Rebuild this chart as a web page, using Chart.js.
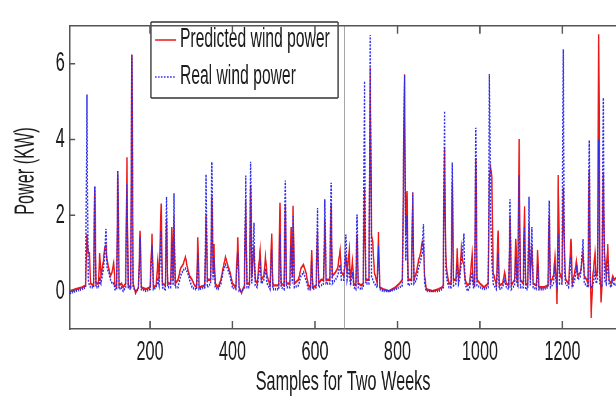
<!DOCTYPE html>
<html>
<head>
<meta charset="utf-8">
<script src="https://cdn.jsdelivr.net/npm/chart.js@4.4.0/dist/chart.umd.min.js"></script>
<style>
  html, body { margin: 0; padding: 0; background: #fff; overflow: hidden; }
  #myChart { display: block; }
</style>
</head>
<body>
<canvas id="myChart" width="1062" height="403" style="width: 616px; height: 403px;"></canvas>
<script>
'use strict';

// sample index (15 min steps) and power in KW
let samples = [
  6, 20, 35, 44, 47, 50, 53, 56, 63, 66,
  69, 75, 78, 81, 87, 90, 93, 96, 100, 104,
  108, 112, 115, 119, 122, 125, 131, 135, 141, 144,
  147, 153, 156, 159, 165, 172, 176, 179, 190, 200,
  205, 208, 215, 219, 222, 227, 230, 237, 240, 243,
  250, 253, 256, 258, 261, 268, 274, 280, 286, 291,
  296, 302, 308, 313, 316, 319, 333, 336, 339, 347,
  350, 353, 355, 358, 365, 372, 377, 383, 388, 394,
  400, 408, 413, 416, 422, 429, 432, 435, 441, 444,
  447, 452, 455, 460, 467, 470, 476, 480, 484, 491,
  495, 498, 512, 515, 518, 525, 528, 531, 539, 542,
  545, 547, 550, 560, 566, 572, 578, 584, 589, 592,
  595, 603, 606, 609, 615, 621, 624, 627, 636, 639,
  642, 650, 655, 661, 664, 670, 675, 678, 683, 686,
  691, 694, 699, 702, 705, 712, 717, 720, 723, 731,
  734, 737, 740, 744, 751, 754, 757, 765, 780, 795,
  805, 812, 817, 820, 823, 826, 834, 837, 840, 846,
  851, 856, 860, 863, 866, 870, 885, 900, 908, 911,
  914, 917, 920, 925, 930, 933, 936, 942, 945, 948,
  952, 955, 958, 961, 964, 970, 975, 981, 984, 987,
  990, 993, 1000, 1010, 1020, 1023, 1026, 1029, 1032, 1040,
  1044, 1047, 1055, 1060, 1064, 1070, 1073, 1076, 1084, 1087,
  1090, 1092, 1095, 1098, 1105, 1108, 1111, 1116, 1119, 1122,
  1126, 1129, 1137, 1140, 1143, 1155, 1165, 1168, 1171, 1178,
  1182, 1185, 1187, 1190, 1193, 1199, 1202, 1205, 1208, 1215,
  1221, 1224, 1230, 1234, 1238, 1244, 1250, 1253, 1259, 1262,
  1265, 1268, 1270, 1273, 1279, 1282, 1285, 1288, 1291, 1294,
  1296, 1299, 1302, 1306, 1310, 1313, 1318, 1322, 1326, 1330,
  1338
];

let predicted = [
  0.0, 0.05, 0.1, 0.15, 1.5, 1.0, 1.0, 0.2, 0.15, 2.75,
  0.2, 0.2, 1.0, 0.4, 0.8, 1.15, 1.2, 0.8, 0.6, 0.4,
  0.5, 0.75, 0.15, 0.1, 3.1, 0.15, 0.2, 0.1, 0.2, 3.53,
  0.15, 0.1, 6.24, 0.2, -0.05, 0.1, 1.59, 0.1, 0.05, 0.1,
  1.51, 0.1, 0.15, 0.8, 0.3, 2.31, 0.2, 0.15, 1.9, 0.2,
  0.2, 1.69, 0.3, 2.0, 0.2, 0.3, 0.6, 0.7, 0.9, 0.6,
  0.4, 0.3, 0.15, 0.1, 1.42, 0.1, 0.15, 2.0, 0.3, 0.3,
  2.5, 0.5, 1.24, 0.2, 0.1, 0.3, 0.6, 0.9, 0.7, 0.5,
  0.2, 0.1, 1.42, 0.1, -0.05, 0.15, 2.4, 0.2, 0.2, 2.8,
  0.4, 1.2, 0.3, 0.2, 1.08, 0.3, 0.4, 0.9, 0.4, 0.15,
  1.52, 0.15, 0.15, 2.33, 0.2, 0.15, 2.3, 0.2, 0.2, 1.69,
  0.4, 2.25, 0.2, 0.3, 0.6, 0.7, 0.5, 0.15, 0.1, 1.08,
  0.1, 0.15, 1.6, 0.2, 0.3, 0.3, 1.9, 0.3, 0.3, 2.3,
  0.4, 0.5, 0.6, 1.08, 0.5, 0.4, 0.9, 0.5, 1.07, 0.3,
  0.8, 0.2, 0.15, 1.5, 0.2, 0.15, 0.2, 2.7, 0.3, 0.3,
  5.9, 1.5, 1.3, 0.5, 0.2, 1.56, 0.1, 0.05, 0.0, 0.1,
  0.2, 0.3, 5.72, 1.5, 2.64, 0.3, 0.3, 2.6, 0.3, 0.5,
  0.8, 1.0, 1.3, 1.2, 0.4, 0.05, 0.0, 0.05, 0.1, 0.15,
  3.8, 1.0, 0.5, 0.2, 0.2, 2.89, 0.3, 0.3, 1.13, 0.3,
  0.6, 1.13, 0.8, 0.7, 0.3, 0.15, 0.2, 0.95, 0.2, 0.15,
  3.5, 0.3, 0.2, 0.1, 0.2, 3.0, 3.26, 3.0, 0.5, 0.15,
  1.6, 0.15, 0.2, 0.5, 0.2, 0.15, 2.0, 0.15, 0.3, 1.38,
  0.3, 0.2, 4.01, 0.3, 0.2, 2.24, 0.2, 0.15, 1.8, 0.3,
  1.2, 0.2, 0.15, 1.08, 0.1, 0.1, 0.15, 2.0, 0.2, 0.4,
  0.9, 0.3, -0.34, 3.06, 0.5, 0.3, 2.73, 1.0, 0.3, 0.2,
  1.38, 0.2, 0.5, 0.8, 0.4, 0.5, 1.0, 0.4, 0.3, 0.2,
  3.2, 0.2, -0.71, 0.3, 1.0, 0.4, 0.5, 6.78, 0.5, -0.3,
  0.2, 3.1, 1.0, 0.4, 1.24, 0.3, 0.2, 0.4, 0.3, 0.35,
  0.3
];

let real = [
  -0.05, 0.0, 0.05, 0.1, 5.19, 0.3, 0.15, 0.1, 0.1, 2.77,
  0.1, 0.1, 0.3, 0.2, 0.6, 0.9, 1.64, 0.6, 0.5, 0.3,
  0.2, 0.2, 0.05, 0.05, 3.18, 0.05, 0.1, 0.0, 0.1, 2.83,
  0.1, 0.05, 6.22, 0.1, 0.0, 0.05, 1.4, 0.05, 0.0, 0.05,
  1.2, 0.05, 0.1, 0.3, 0.15, 1.6, 0.1, 0.05, 2.49, 0.1,
  0.1, 1.3, 0.15, 2.58, 0.1, 0.1, 0.4, 0.55, 0.6, 0.5,
  0.3, 0.1, 0.05, 0.05, 1.0, 0.05, 0.1, 3.08, 0.1, 0.2,
  3.41, 0.3, 0.9, 0.1, 0.05, 0.2, 0.5, 0.7, 0.6, 0.4,
  0.1, 0.05, 1.0, 0.0, 0.0, 0.1, 3.05, 0.1, 0.1, 3.41,
  0.2, 1.8, 0.15, 0.1, 0.7, 0.2, 0.3, 0.6, 0.2, 0.05,
  1.1, 0.05, 0.05, 1.5, 0.1, 0.05, 2.92, 0.1, 0.1, 1.2,
  0.2, 2.0, 0.1, 0.15, 0.4, 0.5, 0.3, 0.05, 0.05, 0.8,
  0.05, 0.1, 2.19, 0.1, 0.15, 0.2, 2.42, 0.2, 0.2, 2.86,
  0.2, 0.3, 0.4, 0.7, 0.3, 0.3, 1.49, 0.3, 0.6, 0.15,
  0.5, 0.1, 0.05, 2.02, 0.1, 0.05, 0.1, 5.54, 0.2, 0.2,
  6.76, 0.4, 0.3, 0.2, 0.1, 1.2, 0.05, 0.0, 0.0, 0.05,
  0.1, 0.15, 5.7, 0.8, 2.0, 0.15, 0.2, 2.6, 0.2, 0.3,
  0.6, 0.8, 1.0, 1.77, 0.2, 0.0, 0.0, 0.0, 0.05, 0.1,
  4.75, 0.6, 0.3, 0.1, 0.1, 3.39, 0.15, 0.2, 0.7, 0.2,
  0.4, 0.8, 1.0, 1.52, 0.2, 0.0, 0.1, 0.5, 0.1, 0.1,
  4.31, 0.15, 0.1, 0.05, 0.1, 5.73, 2.0, 0.8, 0.2, 0.05,
  1.0, 0.05, 0.1, 0.3, 0.1, 0.05, 2.42, 0.05, 0.15, 0.9,
  0.2, 0.1, 3.06, 0.1, 0.1, 1.7, 0.05, 0.05, 2.49, 0.15,
  1.69, 0.1, 0.05, 0.7, 0.05, 0.05, 0.1, 2.39, 0.1, 0.2,
  0.6, 0.2, 0.1, 1.5, 0.2, 0.2, 6.38, 0.5, 0.2, 0.1,
  0.9, 0.1, 0.3, 0.6, 0.3, 0.4, 1.37, 0.2, 0.15, 0.1,
  3.98, 0.1, 0.1, 0.1, 0.5, 0.2, 0.3, 4.0, 0.2, 0.15,
  0.1, 5.1, 0.3, 0.2, 0.8, 0.2, 0.1, 0.3, 0.15, 0.2,
  0.2
];

let xTicks = [200, 400, 600, 800, 1000, 1200];
let yTicks = [0, 2, 4, 6];
let weekMark = 672; // end of first week

// the figure text is a narrow helvetica, so the canvas is drawn wide and squeezed by css
let canvas = document.getElementById('myChart');
let squeeze = 616 / canvas.width;
function sx(px) {
  return px / squeeze;
}

let fontFamily = '"Liberation Sans", Arial, Helvetica, sans-serif';
let textColor = '#1c1c1c';
let axisColor = '#555';

function toPoints(values) {
  let pts = [];
  for (let i = 0; i < samples.length; i++) {
    pts.push({ x: samples[i], y: values[i] });
  }
  return pts;
}

// legend box inside the plot, like the matlab one
const legendBox = {
  id: 'legendBox',
  afterDatasetsDraw(chart) {
    let ctx = chart.ctx;
    let left = sx(151), right = sx(338), top = 22, bottom = 98;
    ctx.save();
    ctx.fillStyle = '#fff';
    ctx.fillRect(left, top, right - left, bottom - top);
    ctx.strokeStyle = '#333';
    ctx.lineWidth = 1.3;
    ctx.beginPath();
    ctx.moveTo(left, top); ctx.lineTo(right, top);
    ctx.moveTo(left, bottom); ctx.lineTo(right, bottom);
    ctx.stroke();
    ctx.lineWidth = 2.2;
    ctx.beginPath();
    ctx.moveTo(left, top); ctx.lineTo(left, bottom);
    ctx.moveTo(right, top); ctx.lineTo(right, bottom);
    ctx.stroke();

    let rows = [40, 77];
    let shown = [chart.data.datasets[1], chart.data.datasets[0]];
    ctx.font = '27px ' + fontFamily;
    ctx.textBaseline = 'middle';
    ctx.textAlign = 'left';
    for (let i = 0; i < shown.length; i++) {
      let ds = shown[i];
      ctx.strokeStyle = ds.borderColor;
      ctx.lineWidth = 1.6;
      ctx.setLineDash(ds.borderDash ? [2.6, 2.6] : []);
      ctx.beginPath();
      ctx.moveTo(sx(155), rows[i]);
      ctx.lineTo(sx(176), rows[i]);
      ctx.stroke();
      ctx.setLineDash([]);
      ctx.fillStyle = textColor;
      ctx.fillText(ds.label, sx(180), rows[i]);
    }
    ctx.restore();
  }
};

// top frame line, inward tick marks and the rotated y title
const frameTicks = {
  id: 'frameTicks',
  afterDraw(chart) {
    let ctx = chart.ctx;
    let a = chart.chartArea;
    let x = chart.scales.x;
    let y = chart.scales.y;
    ctx.save();
    ctx.strokeStyle = axisColor;
    ctx.lineWidth = 1.5;
    ctx.beginPath();
    ctx.moveTo(a.left, a.top);
    ctx.lineTo(a.right, a.top);
    ctx.stroke();

    ctx.lineWidth = 2.6;
    ctx.beginPath();
    xTicks.forEach(function (v) {
      let px = x.getPixelForValue(v);
      ctx.moveTo(px, a.top);
      ctx.lineTo(px, a.top + 8);
      ctx.moveTo(px, a.bottom);
      ctx.lineTo(px, a.bottom - 8);
    });
    ctx.stroke();

    ctx.lineWidth = 1.5;
    ctx.beginPath();
    yTicks.forEach(function (v) {
      let py = y.getPixelForValue(v);
      ctx.moveTo(a.left, py);
      ctx.lineTo(a.left + sx(5), py);
    });
    ctx.stroke();

    ctx.translate(sx(26), 171);
    ctx.rotate(-Math.PI / 2);
    ctx.scale(squeeze, 1 / squeeze);
    ctx.fillStyle = textColor;
    ctx.font = '28px ' + fontFamily;
    ctx.textAlign = 'center';
    ctx.textBaseline = 'middle';
    ctx.fillText('Power (KW)', 0, 0);
    ctx.restore();
  }
};

const chartGraphics = {
  type: 'line',
  data: {
    datasets: [{
      label: 'Real wind power',
      data: toPoints(real),
      borderColor: 'rgb(45, 45, 235)',
      borderWidth: 2.4,
      borderDash: [2, 1.5],
      order: 1
    },
    {
      label: 'Predicted wind power',
      data: toPoints(predicted),
      borderColor: 'rgb(235, 25, 25)',
      borderWidth: 2.4,
      order: 2
    },
    {
      label: 'week',
      data: [{ x: weekMark, y: -1 }, { x: weekMark, y: 7 }],
      borderColor: '#8a8a8a',
      borderWidth: 1.6,
      order: 3
    }]
  },
  options: {
    responsive: false,
    animation: false,
    devicePixelRatio: 1,
    layout: { padding: { top: 7, left: 0, right: 0, bottom: 0 } },
    elements: {
      point: { radius: 0 },
      line: { tension: 0 }
    },
    plugins: {
      legend: { display: false },
      tooltip: { enabled: false }
    },
    scales: {
      x: {
        type: 'linear',
        min: 6,
        max: 1330,
        afterFit: function (axis) { axis.height = 74; },
        afterBuildTicks: function (axis) {
          axis.ticks = xTicks.map(function (v) { return { value: v }; });
        },
        grid: { display: false, drawTicks: false },
        border: { color: axisColor, width: 1.5 },
        ticks: {
          autoSkip: false,
          maxRotation: 0,
          padding: 6,
          color: textColor,
          font: { family: fontFamily, size: 28 },
          callback: function (value) { return String(value); }
        },
        title: {
          display: true,
          text: 'Samples for Two Weeks',
          color: textColor,
          padding: { top: 0, bottom: 4 },
          font: { family: fontFamily, size: 28 }
        }
      },
      y: {
        min: -1,
        max: 7,
        afterFit: function (axis) { axis.width = sx(70); },
        afterBuildTicks: function (axis) {
          axis.ticks = yTicks.map(function (v) { return { value: v }; });
        },
        grid: { display: false, drawTicks: false },
        border: { color: axisColor, width: 2.5 },
        ticks: {
          padding: 9,
          color: textColor,
          font: { family: fontFamily, size: 28 }
        }
      }
    }
  },
  plugins: [legendBox, frameTicks]
};

const myChart = new Chart(canvas.getContext('2d'), chartGraphics);
</script>
</body>
</html>
